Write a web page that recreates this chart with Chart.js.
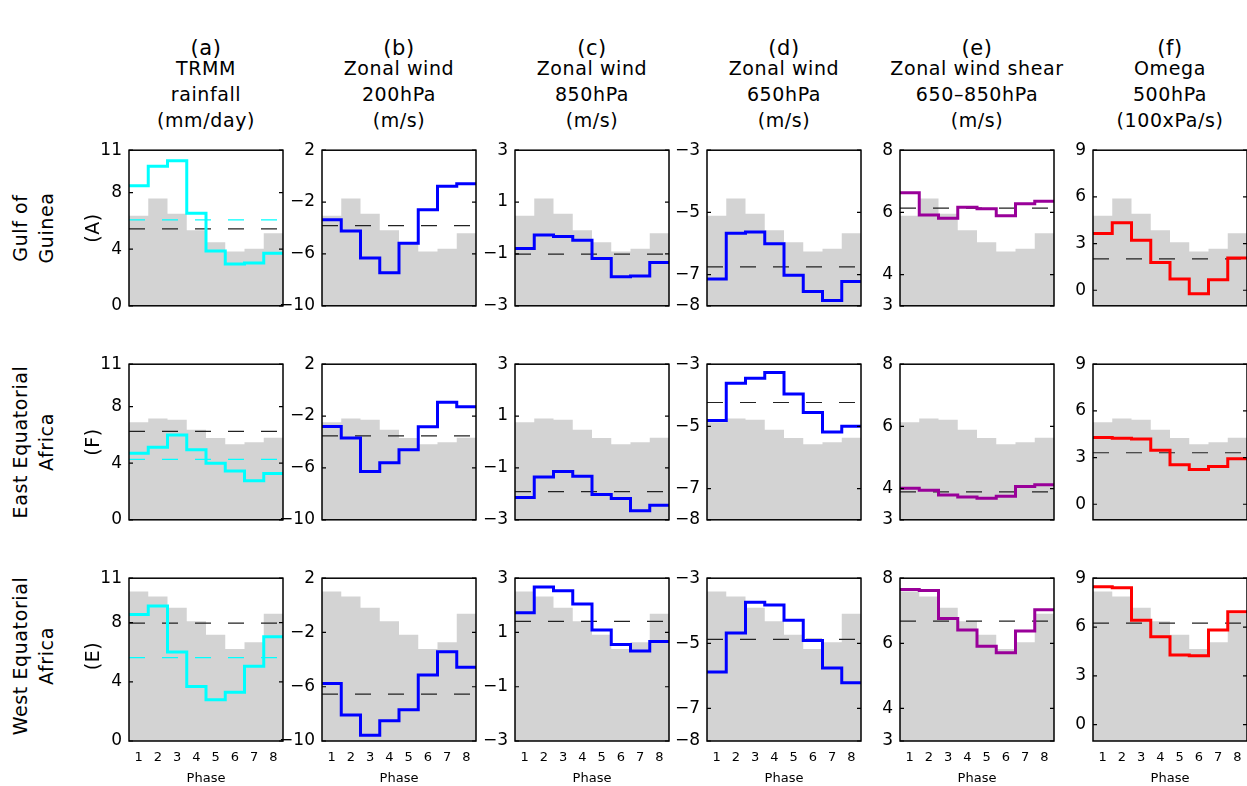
<!DOCTYPE html>
<html>
<head>
<meta charset="utf-8">
<script src="https://cdn.jsdelivr.net/npm/chart.js@4/dist/chart.umd.min.js"></script>
<style>
  html, body { margin: 0; padding: 0; background: #fff; }
  #stage { position: relative; width: 1247px; height: 786px; overflow: hidden; font-family: "DejaVu Sans", sans-serif; }
  #stage canvas { position: absolute; }
  .ttl { position: absolute; width: 220px; text-align: center; font-size: 19px; line-height: 26px; letter-spacing: 0.6px; color: #000; }
  .lbl { position: absolute; font-size: 19px; letter-spacing: 0.6px; white-space: nowrap; transform: translate(-50%, -50%) rotate(-90deg); color: #000; }
</style>
</head>
<body>
<div id="stage"></div>
<script>
// ---- data ----
const phases = [1, 2, 3, 4, 5, 6, 7, 8];

const colLetters = ['(a)', '(b)', '(c)', '(d)', '(e)', '(f)'];
const colTitles = [
  ['TRMM', 'rainfall', '(mm/day)'],
  ['Zonal wind', '200hPa', '(m/s)'],
  ['Zonal wind', '850hPa', '(m/s)'],
  ['Zonal wind', '650hPa', '(m/s)'],
  ['Zonal wind shear', '650\u2013850hPa', '(m/s)'],
  ['Omega', '500hPa', '(100xPa/s)'],
];
const rowNames = [['Gulf of', 'Guinea'], ['East Equatorial', 'Africa'], ['West Equatorial', 'Africa']];
const rowCodes = ['(A)', '(F)', '(E)'];

// grey background (fraction of panel height), shared across a row
const greyGulf = [0.578, 0.690, 0.592, 0.486, 0.408, 0.349, 0.367, 0.467];
const greyEast = [0.627, 0.651, 0.643, 0.578, 0.525, 0.486, 0.498, 0.527];
const greyWest = [0.918, 0.888, 0.818, 0.735, 0.653, 0.565, 0.606, 0.782];

const trmmGulf = [8.48, 9.86, 10.25, 6.54, 3.88, 2.95, 3.02, 3.71];
const trmmEast = [4.70, 5.13, 6.00, 4.96, 3.99, 3.45, 2.76, 3.28];
const trmmWest = [8.54, 9.13, 6.02, 3.69, 2.78, 3.30, 5.05, 7.05];
const u200Gulf = [-3.36, -4.24, -6.31, -7.46, -5.18, -2.59, -0.78, -0.59];
const u200East = [-2.80, -3.69, -6.28, -5.60, -4.59, -2.82, -0.94, -1.29];
const u200West = [-5.76, -8.09, -9.57, -8.50, -7.70, -5.13, -3.43, -4.56];
const u850Gulf = [-0.79, -0.27, -0.33, -0.47, -1.18, -1.88, -1.85, -1.33];
const u850East = [-2.14, -1.35, -1.14, -1.32, -2.02, -2.18, -2.65, -2.44];
const u850West = [1.73, 2.68, 2.54, 2.05, 1.09, 0.56, 0.32, 0.67];
const u650Gulf = [-7.14, -5.67, -5.63, -6.01, -7.02, -7.54, -7.83, -7.22];
const u650East = [-4.81, -3.61, -3.45, -3.27, -3.96, -4.55, -5.18, -4.99];
const u650West = [-5.88, -4.68, -3.74, -3.82, -4.29, -4.91, -5.76, -6.21];
const shearGulf = [6.63, 5.92, 5.81, 6.17, 6.12, 5.89, 6.28, 6.36];
const shearEast = [4.01, 3.95, 3.80, 3.73, 3.69, 3.76, 4.07, 4.13];
const shearWest = [7.65, 7.62, 6.76, 6.41, 5.91, 5.71, 6.38, 7.03];
const omegaGulf = [3.65, 4.33, 3.22, 1.78, 0.73, -0.22, 0.67, 2.08];
const omegaEast = [4.29, 4.24, 4.20, 3.47, 2.53, 2.24, 2.43, 2.92];
const omegaWest = [8.47, 8.41, 6.41, 5.41, 4.29, 4.24, 5.82, 6.94];

// climatological means (black dashed), rows Gulf / East / West
const trmmMean = [5.44, 6.25, 7.96];
const trmmMean2 = [6.08, 4.27, 5.63]; // cyan dashed
const u200Mean = [-3.81, -3.53, -6.54];
const u850Mean = [-1.01, -1.91, 1.41];
const u650Mean = [-6.75, -4.23, -4.88];
const shearMean = [6.14, 3.90, 6.68];
const omegaMean = [2.02, 3.31, 6.24];

const yRanges = [[0, 11], [-10, 2], [-3, 3], [-8, -3], [3, 8], [-1, 9]];
const yTicks = [[0, 4, 8, 11], [-10, -6, -2, 2], [-3, -1, 1, 3], [-8, -7, -5, -3], [3, 4, 6, 8], [0, 3, 6, 9]];

const series = [
  [trmmGulf, trmmEast, trmmWest],
  [u200Gulf, u200East, u200West],
  [u850Gulf, u850East, u850West],
  [u650Gulf, u650East, u650West],
  [shearGulf, shearEast, shearWest],
  [omegaGulf, omegaEast, omegaWest],
];
const means = [trmmMean, u200Mean, u850Mean, u650Mean, shearMean, omegaMean];
const greys = [greyGulf, greyEast, greyWest];
const lineColors = ['#00ffff', '#0000ff', '#0000ff', '#0000ff', '#990099', '#ff0000'];

// ---- layout ----
const colLeft = [129, 322, 515, 707, 900, 1093];
const rowTop = [143, 357, 571];
const boxW = 154, boxH = 170;
const AXW = 45, PAD = 10, XAXH = 45;

const stage = document.getElementById('stage');

// steps from phase centres out to the bin edges
function steps(vals) {
  const pts = phases.map((p, i) => ({ x: p - 0.5, y: vals[i] }));
  pts.push({ x: phases[phases.length - 1] + 0.5, y: vals[vals.length - 1] });
  return pts;
}
function flat(v) {
  return [{ x: phases[0] - 0.5, y: v }, { x: phases[phases.length - 1] + 0.5, y: v }];
}
const fmt = v => String(v).replace('-', '\u2212');

// box + inward ticks
const framePlugin = {
  id: 'frame',
  afterDraw(chart) {
    const { ctx, chartArea: a, scales } = chart;
    ctx.save();
    ctx.strokeStyle = '#000';
    ctx.lineWidth = 1.5;
    ctx.strokeRect(a.left, a.top, a.right - a.left, a.bottom - a.top);
    ctx.lineWidth = 1.2;
    for (const t of scales.y.ticks) {
      const py = scales.y.getPixelForValue(t.value);
      ctx.beginPath();
      ctx.moveTo(a.left, py); ctx.lineTo(a.left + 4, py);
      ctx.moveTo(a.right, py); ctx.lineTo(a.right - 4, py);
      ctx.stroke();
    }
    ctx.restore();
  }
};

for (let r = 0; r < 3; r++) {
  for (let c = 0; c < 6; c++) {
    const bottom = r === 2;
    const cv = document.createElement('canvas');
    const w = AXW + boxW + PAD;
    const h = PAD + boxH + (bottom ? XAXH : PAD);
    cv.width = w; cv.height = h;
    cv.style.left = (colLeft[c] - AXW) + 'px';
    cv.style.top = (rowTop[r] - PAD) + 'px';
    cv.style.width = w + 'px'; cv.style.height = h + 'px';
    stage.appendChild(cv);

    // 'before' in Chart.js draws the horizontal run first, then the riser
    const datasets = [
      {
        data: steps(greys[r]), yAxisID: 'y2', stepped: 'before',
        borderWidth: 0, borderColor: 'rgba(0,0,0,0)', backgroundColor: '#d3d3d3',
        fill: 'start', order: 5,
      },
      {
        data: flat(means[c][r]), yAxisID: 'y', borderColor: '#222',
        borderWidth: 1.2, borderDash: [16, 17], fill: false, order: 3,
      },
    ];
    if (c === 0) {
      datasets.push({
        data: flat(trmmMean2[r]), yAxisID: 'y', borderColor: '#00ffff',
        borderWidth: 1.2, borderDash: [16, 17], fill: false, order: 2,
      });
    }
    datasets.push({
      data: steps(series[c][r]), yAxisID: 'y', stepped: 'before',
      borderColor: lineColors[c], borderWidth: 3, fill: false, order: 1,
    });

    new Chart(cv, {
      type: 'line',
      data: { datasets },
      options: {
        responsive: false,
        animation: false,
        events: [],
        layout: { padding: { top: PAD, right: PAD, left: 0, bottom: bottom ? 0 : PAD } },
        elements: { point: { radius: 0 }, line: { tension: 0 } },
        plugins: { legend: { display: false }, tooltip: { enabled: false } },
        scales: {
          x: {
            type: 'linear', min: 0.5, max: 8.5,
            display: true,
            grid: { display: false, drawTicks: false },
            border: { display: false },
            afterBuildTicks: s => { s.ticks = phases.map(v => ({ value: v })); },
            afterFit: s => { s.height = bottom ? XAXH : 0; },
            ticks: {
              display: bottom, color: '#000', padding: 9, maxRotation: 0, autoSkip: false,
              font: { family: 'DejaVu Sans', size: 13 },
            },
            title: {
              display: bottom, text: 'Phase', color: '#000', padding: { top: 0, bottom: 0 },
              font: { family: 'DejaVu Sans', size: 13 },
            },
          },
          y: {
            type: 'linear', position: 'left',
            min: yRanges[c][0], max: yRanges[c][1],
            grid: { display: false, drawTicks: false },
            border: { display: false },
            afterBuildTicks: s => { s.ticks = yTicks[c].map(v => ({ value: v })); },
            afterFit: s => { s.width = AXW; },
            ticks: {
              color: '#000', padding: 7, autoSkip: false,
              font: { family: 'DejaVu Sans', size: 17 },
              callback: v => fmt(v),
            },
          },
          y2: { type: 'linear', display: false, min: 0, max: 1 },
        },
      },
      plugins: [framePlugin],
    });
  }
}

// column headers
for (let c = 0; c < 6; c++) {
  const cx = colLeft[c] + boxW / 2;
  const lines = [colLetters[c]].concat(colTitles[c]);
  const d = document.createElement('div');
  d.className = 'ttl';
  d.style.left = (cx - 110) + 'px';
  d.style.top = '33px';
  d.innerHTML = `<div style="font-size:21px;line-height:30px;margin-bottom:-8px">${lines[0]}</div>` +
    lines.slice(1).map(t => `<div>${t}</div>`).join('');
  stage.appendChild(d);
}

// row labels
for (let r = 0; r < 3; r++) {
  const cy = rowTop[r] + boxH / 2;
  const xs = [20, 46, 92];
  const texts = [rowNames[r][0], rowNames[r][1], rowCodes[r]];
  texts.forEach((t, i) => {
    const d = document.createElement('div');
    d.className = 'lbl';
    d.style.left = xs[i] + 'px';
    d.style.top = cy + 'px';
    d.textContent = t;
    stage.appendChild(d);
  });
}
</script>
</body>
</html>
